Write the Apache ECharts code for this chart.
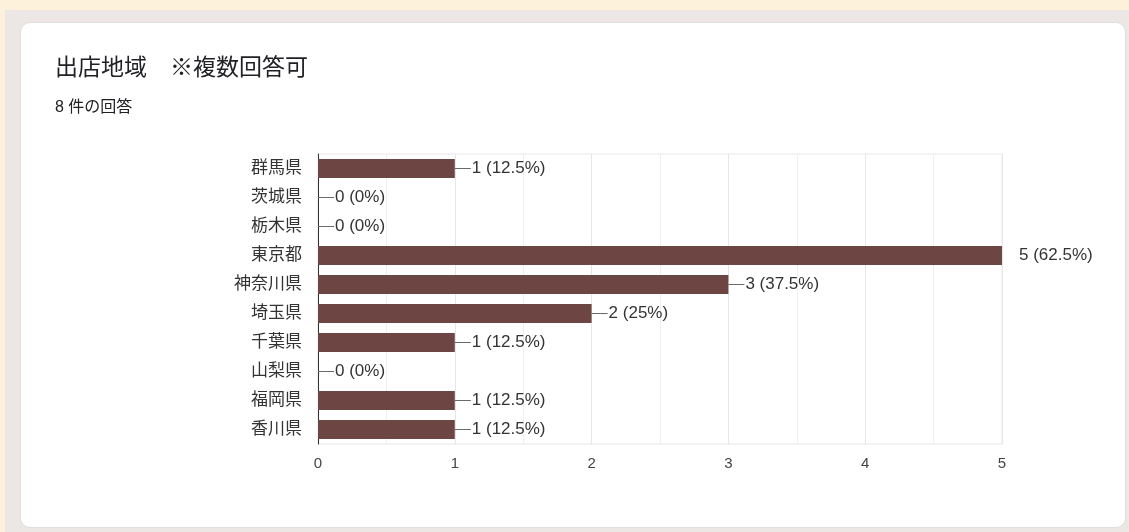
<!DOCTYPE html>
<html>
<head>
<meta charset="utf-8">
<script src="https://cdn.jsdelivr.net/npm/echarts@6/dist/echarts.min.js"></script>
<style>
html,body{margin:0;padding:0;width:1129px;height:532px;overflow:hidden;background:#fdf1dc;}
#frame{position:absolute;left:5px;top:10px;width:1124px;height:522px;background:#ece7e5;}
#card{position:absolute;left:20px;top:22px;width:1104px;height:504px;background:#fff;border:1px solid #dedede;border-radius:10px;}
#chart{position:absolute;left:0;top:0;width:1129px;height:532px;}
</style>
</head>
<body>
<div id="frame"></div>
<div id="card"></div>
<div id="chart"></div>
<script>
const titleText = '出店地域　※複数回答可';
const subtitleText = '8 件の回答';
const totalResponses = 8;
const categories = ['群馬県','茨城県','栃木県','東京都','神奈川県','埼玉県','千葉県','山梨県','福岡県','香川県'];
const counts = [1,0,0,5,3,2,1,0,1,1];
const xTicks = [0,1,2,3,4,5];

const FONT = '"Liberation Sans", "Noto Sans CJK JP", sans-serif';
const maxVal = Math.max(...counts);

function pct(v){
  const p = v / totalResponses * 100;
  return (Math.round(p * 10) / 10).toString() + '%';
}

const data = counts.map(function(v){
  const item = {value: v};
  if (v === maxVal) {
    item.label = {formatter: function(p){ return '{t|' + p.value + ' (' + pct(p.value) + ')}'; }, distance: 16};
  }
  return item;
});

const chart = echarts.init(document.getElementById('chart'), null, {renderer: 'canvas'});
chart.setOption({
  backgroundColor: 'transparent',
  animation: false,
  textStyle: {fontFamily: FONT},
  title: [
    {text: titleText, left: 50, top: 52, textStyle: {fontSize: 23, fontWeight: 'normal', color: '#202124', fontFamily: FONT}},
    {text: subtitleText, left: 50, top: 95, textStyle: {fontSize: 16, fontWeight: 'normal', color: '#202124', fontFamily: FONT}}
  ],
  grid: {left: 318, right: 127, top: 154, bottom: 88, show: true, borderColor: '#e8e8e8', borderWidth: 1, containLabel: false},
  xAxis: {
    type: 'value', min: 0, max: xTicks[xTicks.length - 1], interval: 1,
    axisLine: {show: false}, axisTick: {show: false},
    axisLabel: {color: '#444', fontSize: 15, margin: 12, fontFamily: FONT},
    splitLine: {show: true, lineStyle: {color: '#e6e6e6', width: 1}},
    minorTick: {show: false, splitNumber: 2},
    minorSplitLine: {show: true, lineStyle: {color: '#efefef', width: 1}}
  },
  yAxis: {
    type: 'category', data: categories, inverse: true,
    axisLine: {show: true, lineStyle: {color: '#333', width: 1}},
    axisTick: {show: false},
    axisLabel: {color: '#333', fontSize: 17, margin: 16, fontFamily: FONT},
    splitLine: {show: false}
  },
  series: [{
    type: 'bar', data: data, barWidth: 19,
    itemStyle: {color: '#6d4644'},
    label: {
      show: true, position: 'right', distance: 0,
      formatter: function(p){ return '{l|}{t|' + p.value + ' (' + pct(p.value) + ')}'; },
      rich: {
        l: {width: 16, height: 1, backgroundColor: '#6a6a6a'},
        t: {fontSize: 17, color: '#333', fontFamily: FONT, padding: [0,0,0,1]}
      }
    }
  }]
});
</script>
</body>
</html>
